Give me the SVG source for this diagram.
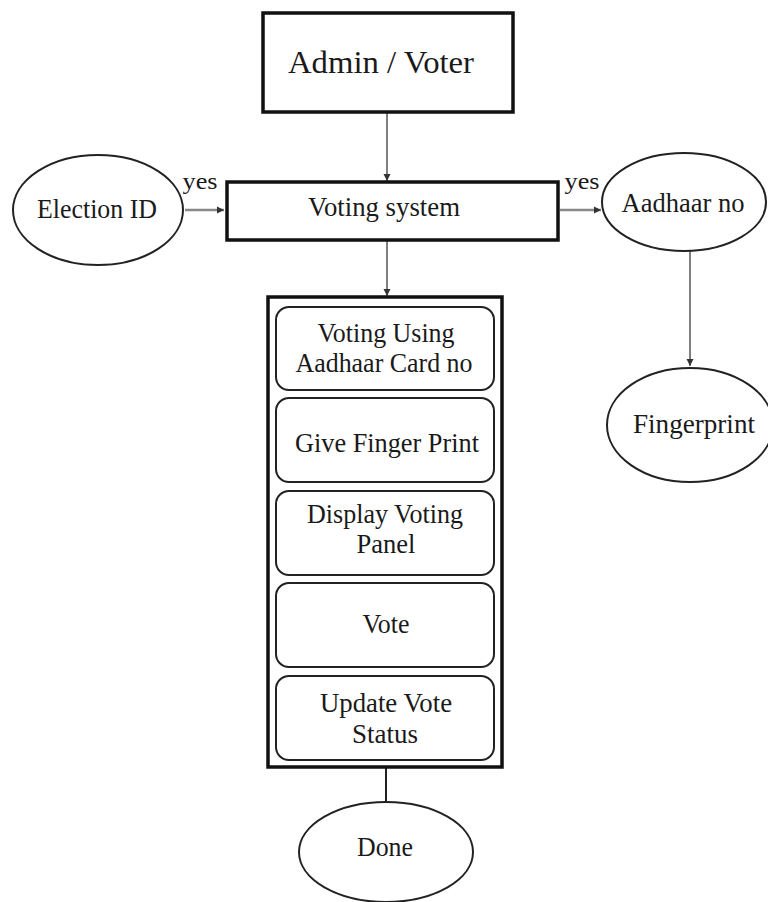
<svg xmlns="http://www.w3.org/2000/svg" width="768" height="902" viewBox="0 0 768 902">
<style>
.box{fill:#fff;stroke:#111;stroke-width:3.5}
.step{fill:#fff;stroke:#222;stroke-width:2}
.ell{fill:#fff;stroke:#222;stroke-width:2}
text{font-family:"Liberation Serif","Times New Roman",serif;fill:#1a1a1a;text-anchor:middle}
.t28{font-size:31px}
.t24{font-size:27px}
.t21{font-size:24px}
.c{stroke:#555;stroke-width:1.5;fill:none}
.cg{stroke:#888;stroke-width:2.5;fill:none}
</style>
<defs>
<marker id="ah" markerWidth="10" markerHeight="10" refX="8" refY="5" orient="auto" markerUnits="userSpaceOnUse">
<path d="M1,1.5 L8,5 L1,8.5 Z" fill="#333"/>
</marker>
</defs>
<rect width="768" height="902" fill="#fff"/>
<g id="connectors">
<line class="c" x1="387" y1="112" x2="387" y2="181" marker-end="url(#ah)"/>
<line class="cg" x1="185" y1="210" x2="224" y2="210" marker-end="url(#ah)"/>
<line class="cg" x1="560" y1="210" x2="601" y2="210" marker-end="url(#ah)"/>
<line class="c" x1="387" y1="241" x2="387" y2="296" marker-end="url(#ah)"/>
<line class="c" x1="690" y1="251" x2="690" y2="366" marker-end="url(#ah)"/>
<line stroke="#222" stroke-width="2" x1="386" y1="768" x2="386" y2="802"/>
<text class="t21" x="200" y="189" textLength="35" lengthAdjust="spacingAndGlyphs">yes</text>
<text class="t21" x="582" y="189" textLength="35" lengthAdjust="spacingAndGlyphs">yes</text>
</g>
<g id="admin">
<rect class="box" x="263" y="13" width="250" height="99"/>
<text class="t28" x="381" y="73" textLength="186" lengthAdjust="spacingAndGlyphs">Admin / Voter</text>
</g>
<g id="voting-system">
<rect class="box" x="227" y="182" width="331" height="58"/>
<text class="t24" x="384" y="216" textLength="152" lengthAdjust="spacingAndGlyphs">Voting system</text>
</g>
<g id="election-id">
<ellipse class="ell" cx="98" cy="210" rx="85" ry="55"/>
<text class="t24" x="97" y="218" textLength="120" lengthAdjust="spacingAndGlyphs">Election ID</text>
</g>
<g id="aadhaar-no">
<ellipse class="ell" cx="684" cy="202" rx="82" ry="49"/>
<text class="t24" x="683" y="212" textLength="123" lengthAdjust="spacingAndGlyphs">Aadhaar no</text>
</g>
<g id="fingerprint">
<ellipse class="ell" cx="690" cy="425" rx="83" ry="57"/>
<text class="t24" x="694" y="433" textLength="122" lengthAdjust="spacingAndGlyphs">Fingerprint</text>
</g>
<g id="process">
<rect class="box" x="268" y="297" width="234" height="470"/>
</g>
<g id="step-1">
<rect class="step" x="276" y="307" width="218" height="83" rx="13"/>
<text class="t24" x="386" y="342" textLength="137" lengthAdjust="spacingAndGlyphs">Voting Using</text>
<text class="t24" x="384" y="372" textLength="177" lengthAdjust="spacingAndGlyphs">Aadhaar Card no</text>
</g>
<g id="step-2">
<rect class="step" x="276" y="398" width="218" height="84" rx="13"/>
<text class="t24" x="387" y="452" textLength="184" lengthAdjust="spacingAndGlyphs">Give Finger Print</text>
</g>
<g id="step-3">
<rect class="step" x="276" y="491" width="218" height="84" rx="13"/>
<text class="t24" x="385" y="523" textLength="156" lengthAdjust="spacingAndGlyphs">Display Voting</text>
<text class="t24" x="386" y="553" textLength="59" lengthAdjust="spacingAndGlyphs">Panel</text>
</g>
<g id="step-4">
<rect class="step" x="276" y="583" width="218" height="84" rx="13"/>
<text class="t24" x="386" y="633" textLength="47" lengthAdjust="spacingAndGlyphs">Vote</text>
</g>
<g id="step-5">
<rect class="step" x="276" y="676" width="218" height="84" rx="13"/>
<text class="t24" x="386" y="712" textLength="132" lengthAdjust="spacingAndGlyphs">Update Vote</text>
<text class="t24" x="385" y="743" textLength="66" lengthAdjust="spacingAndGlyphs">Status</text>
</g>
<g id="done">
<ellipse class="ell" cx="386" cy="852" rx="87" ry="50"/>
<text class="t24" x="385" y="856" textLength="56" lengthAdjust="spacingAndGlyphs">Done</text>
</g>
</svg>
